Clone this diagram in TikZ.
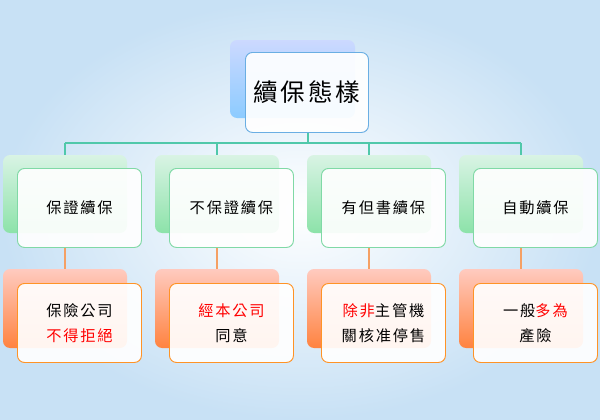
\documentclass[tikz,border=0pt]{standalone}
\usepackage{fontspec}
\newfontfamily\cjk[LetterSpace=12]{Noto Sans CJK TC}
\definecolor{lnk}{RGB}{80,200,170}
\definecolor{lnkor}{RGB}{245,160,100}
\definecolor{bgout}{RGB}{200,225,245}
\begin{document}
\begin{tikzpicture}[x=0.03cm,y=-0.03cm,
  backb/.style={rounded corners=6pt},
  frontb/.style={rounded corners=6pt,fill=white,fill opacity=0.92,draw,line width=0.8pt,text opacity=1,inner sep=0pt},
  conn/.style={line width=0.9pt}]
\useasboundingbox (0,0) rectangle (600,419);
\shade[inner color=white,outer color=bgout] (0,0) rectangle (600,419);
% top
\shade[backb,top color=cyan!25!blue!20,bottom color=cyan!55!blue!45] (230,40) rectangle (355,118);
\draw[conn,lnk] (308,132) -- (308,143);
\draw[conn,lnk] (65,143) -- (521,143);
\node[frontb,draw=cyan!70!blue!60,minimum width=123*0.03cm,minimum height=80*0.03cm,anchor=north west,font=\cjk\fontsize{21}{26}\selectfont] (top) at (245,52) {續保態樣};
\foreach \i/\a/\b/\c in {0/保證續保/保險公司/{\color{red}不得拒絕},1/不保證續保/{\color{red}經本公司}/同意,2/有但書續保/{{\color{red}除非}主管機}/關核准停售,3/自動續保/{一般{\color{red}多為}}/產險}{
  \pgfmathsetmacro\x{3+152*\i}
  \draw[conn,lnk] (\x+62,143) -- (\x+62,155);
  \shade[backb,top color=green!40!teal!15,bottom color=green!50!teal!45] (\x,155) rectangle (\x+124,233);
  \draw[conn,lnkor] (\x+62,247) -- (\x+62,269);
  \shade[backb,top color=orange!35!red!25,bottom color=orange!70!red!75] (\x,269) rectangle (\x+124,348);
  \node[frontb,draw=teal!60!green!50,minimum width=124*0.03cm,minimum height=79*0.03cm,anchor=north west,font=\cjk\fontsize{13}{17}\selectfont] (m\i) at (\x+14,168) {\a};
  \node[frontb,draw=orange!85,minimum width=124*0.03cm,minimum height=79*0.03cm,anchor=north west,align=center,font=\cjk\fontsize{13}{21}\selectfont] (l\i) at (\x+14,283) {\b\\\c};
}
\end{tikzpicture}
\end{document}
